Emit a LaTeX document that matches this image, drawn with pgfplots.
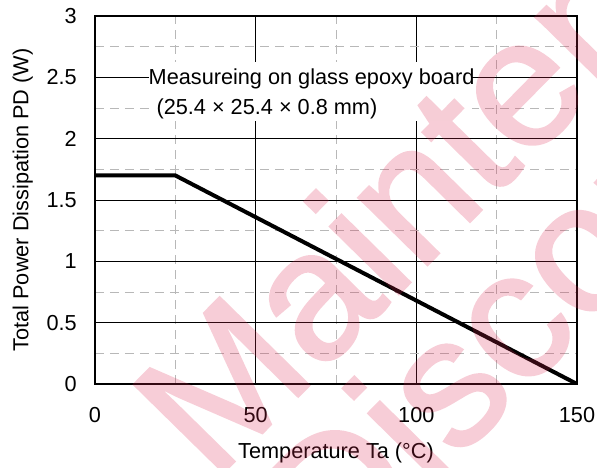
\documentclass[border=0pt]{standalone}
\usepackage{fontspec}
\setmainfont{Liberation Sans}
\newfontfamily\wmfont[FakeBold=1.5]{Liberation Sans}
\usepackage{pgfplots}
\pgfplotsset{compat=1.18}
\definecolor{wm}{RGB}{220,40,80}
\begin{document}
\begin{tikzpicture}[font=\fontsize{21.7}{26}\selectfont]
\useasboundingbox (-95pt,-84pt) rectangle (502pt,384pt);
\clip (-95pt,-84pt) rectangle (502pt,384pt);
\begin{axis}[
  at={(0pt,0pt)}, anchor=south west,
  scale only axis, width=482pt, height=368pt,
  xmin=0, xmax=150, ymin=0, ymax=3,
  xtick={0,50,100,150}, ytick={0,0.5,1,1.5,2,2.5,3},
  minor xtick={25,75,125}, minor ytick={0.25,0.75,1.25,1.75,2.25,2.75},
  grid=both,
  major grid style={black, line width=0.7pt},
  minor grid style={black!28, line width=0.7pt, dash pattern=on 9pt off 6pt},
  major tick length=0pt, minor tick length=0pt,
  axis line style={black, line width=1.3pt},
  /pgf/number format/assume math mode=true,
  yticklabel style={inner sep=0pt, anchor=east, xshift=-18pt},
  xticklabel style={inner sep=0pt, anchor=north, yshift=-22.7pt},
  xlabel={Temperature Ta (°C)},
  ylabel={Total Power Dissipation PD (W)},
  every axis x label/.style={at={(axis description cs:0.5,-0.2011)}, anchor=base},
  every axis y label/.style={at={(axis description cs:-0.1384,0.5)}, rotate=90, anchor=base},
]
\addplot[black, line width=4pt] coordinates {(0,1.7) (25,1.7) (150,0)};
\fill[white] (axis cs:16.8,2.144) rectangle (axis cs:117.3,2.625);
\node[anchor=base west, inner sep=0pt] at (axis cs:16.65,2.4375) {Measureing on glass epoxy board};
\node[anchor=base west, inner sep=0pt] at (axis cs:19.1,2.193) {(25.4 × 25.4 × 0.8 mm)};
\end{axis}
\begin{scope}[transparency group, opacity=0.23]
\node[rotate=45.5, anchor=base west, inner sep=0pt, text=wm, font=\wmfont\fontsize{182}{182}\selectfont] at (118pt,-99pt) {Maintenance/};
\node[rotate=45.5, anchor=base west, inner sep=0pt, text=wm, font=\wmfont\fontsize{182}{182}\selectfont] at (241.4pt,-199.3pt) {Discontinued};
\end{scope}
\end{tikzpicture}
\end{document}
